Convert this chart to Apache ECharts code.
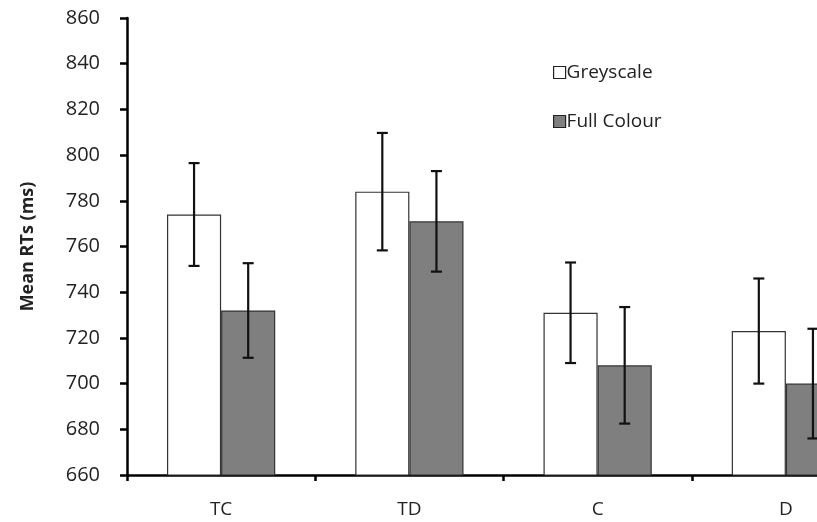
<!DOCTYPE html>
<html><head><meta charset="utf-8">
<script src="https://cdn.jsdelivr.net/npm/echarts@6/dist/echarts.min.js"></script>
<style>html,body{margin:0;padding:0;background:#fff}#c{width:817px;height:522px}</style>
</head><body><div id="c"></div>
<script>
const categories = ['TC', 'TD', 'C', 'D'];
const greyscale = [774, 784, 731, 723];
const fullColour = [732, 771, 708, 700];
const greyErr = [22.5, 25.7, 22, 23];
const fullErr = [20.7, 22, 25.5, 24];
const yTicks = { min: 660, max: 860, interval: 20 };

const FONT = '"Open Sans"';
const CAT_GAP = 0.425;

function errSeries(values, errs, side) {
  return {
    type: 'custom',
    z: 10,
    silent: true,
    data: values.map((v, i) => [i, v, errs[i]]),
    renderItem: function (params, api) {
      const i = api.value(0), v = api.value(1), e = api.value(2);
      const band = api.size([1, 0])[0];
      const bw = band * (1 - CAT_GAP) / 2;
      const c = api.coord([i, v]);
      const x = c[0] + side * bw / 2;
      const yt = api.coord([i, v + e])[1];
      const yb = api.coord([i, v - e])[1];
      const cap = 5.5;
      const st = { stroke: '#111', lineWidth: 2.2 };
      return { type: 'group', children: [
        { type: 'line', shape: { x1: x, y1: yt, x2: x, y2: yb }, style: st },
        { type: 'line', shape: { x1: x - cap, y1: yt, x2: x + cap, y2: yt }, style: st },
        { type: 'line', shape: { x1: x - cap, y1: yb, x2: x + cap, y2: yb }, style: st }
      ]};
    }
  };
}

const chart = echarts.init(document.getElementById('c'), null, { renderer: 'canvas' });
chart.setOption({
  animation: false,
  backgroundColor: '#fff',
  textStyle: { fontFamily: FONT },
  grid: { left: 127, top: 18, right: -63, bottom: 47, containLabel: false, outerBoundsMode: 'none' },
  legend: {
    orient: 'vertical', left: 548, top: 58, itemGap: 30,
    icon: 'rect', itemWidth: 12, itemHeight: 12,
    textStyle: { fontFamily: FONT, fontSize: 19, color: '#222', padding: [0, 0, 0, -4] },
    data: [
      { name: 'Greyscale', itemStyle: { color: '#fff', borderColor: '#222', borderWidth: 1.2 } },
      { name: 'Full Colour', itemStyle: { color: '#7f7f7f', borderColor: '#222', borderWidth: 1.2 } }
    ]
  },
  xAxis: {
    type: 'category', data: categories,
    axisLine: { lineStyle: { color: '#000', width: 2.5 } },
    axisTick: { show: true, length: 6, lineStyle: { color: '#000', width: 2.5 } },
    axisLabel: { color: '#222', fontSize: 19, fontFamily: FONT, margin: 25 }
  },
  yAxis: {
    type: 'value', min: yTicks.min, max: yTicks.max, interval: yTicks.interval,
    name: 'Mean RTs (ms)', nameLocation: 'middle', nameGap: 90, nameRotate: 90,
    nameTextStyle: { fontFamily: FONT, fontSize: 18, fontWeight: 'bold', color: '#222' },
    splitLine: { show: false },
    axisLine: { show: true, lineStyle: { color: '#000', width: 2.5 } },
    axisTick: { show: true, length: 7, lineStyle: { color: '#000', width: 2.5 } },
    axisLabel: { color: '#222', fontSize: 20, fontFamily: FONT, margin: 27 }
  },
  series: [
    { name: 'Greyscale', type: 'bar', data: greyscale, barGap: '0%', barCategoryGap: '42.5%',
      itemStyle: { color: '#fff', borderColor: '#333', borderWidth: 1.2 } },
    { name: 'Full Colour', type: 'bar', data: fullColour,
      itemStyle: { color: '#7f7f7f', borderColor: '#333', borderWidth: 1.2 } },
    errSeries(greyscale, greyErr, -1),
    errSeries(fullColour, fullErr, 1)
  ]
});
</script>
</body></html>
